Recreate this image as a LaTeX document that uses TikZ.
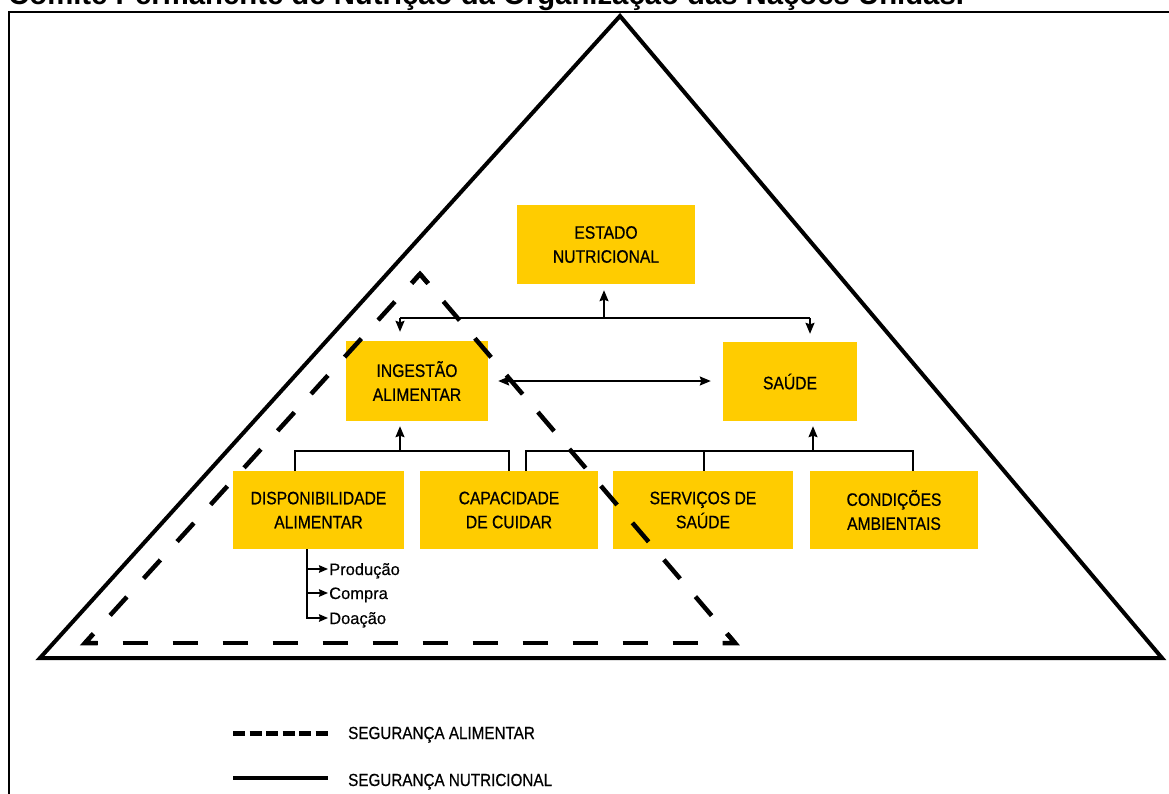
\documentclass[tikz,border=0pt]{standalone}
\usepackage{fontspec}
\setmainfont{Liberation Sans}
\newfontfamily\boxfont[FakeStretch=0.87,FakeBold=0.6]{Liberation Sans}
\newfontfamily\plainfont{Liberation Sans}
\newfontfamily\subfont[FakeBold=0.4]{Liberation Sans}
\usetikzlibrary{arrows.meta,calc}
\definecolor{ambar}{RGB}{255,204,0}
\begin{document}
\begin{tikzpicture}[x=1pt,y=-1pt,
  box/.style={fill=ambar, draw=none, align=center, inner sep=0pt,
    font=\boxfont\fontsize{18}{24}\selectfont},
  conn/.style={line width=1.6pt},
  tip/.tip={Stealth[length=11pt,width=9pt,inset=1.5pt]},
  arr/.style={conn, -tip},
  darr/.style={conn, tip-tip},
  subtxt/.style={font=\subfont\fontsize{16.5}{18}\selectfont, inner sep=1pt, anchor=base west},
  subarr/.style={line width=1.6pt, -{Stealth[length=9pt,width=7.5pt,inset=1pt]}},
  frameline/.style={line width=1.5pt},
  bigtri/.style={line width=4pt, line join=miter},
  dtri/.style={line width=4.5pt, line join=miter},
  legtxt/.style={font=\boxfont\fontsize{17.5}{20}\selectfont, inner sep=0pt, anchor=base west}
]
\useasboundingbox (0,0) rectangle (1169,793);

% title (cut at top, as in the reference)
\node[anchor=base west, inner sep=0pt, font=\plainfont\bfseries\fontsize{29.3}{30}\selectfont] (title) at (8,4)
  {Comitê Permanente de Nutrição da Organização das Nações Unidas.};

% frame
\coordinate (fTL) at (9,12);
\coordinate (fTR) at (1172,12);
\coordinate (fBL) at (9,796);
\draw[frameline] (fBL) -- (fTL) -- (fTR);

% big triangle
\coordinate (TA) at (620,16);
\coordinate (TB) at (40,658);
\coordinate (TC) at (1162,658);
\draw[bigtri] (TA) -- (TB) -- (TC) -- cycle;

% boxes
\node[box, minimum width=178pt, minimum height=79pt] (est) at (606,244.5) {ESTADO\\NUTRICIONAL};
\node[box, minimum width=142pt, minimum height=80pt] (ing) at (417,381) {INGESTÃO\\ALIMENTAR};
\node[box, minimum width=134pt, minimum height=79pt] (sau) at (790,381.5) {SAÚDE};
\node[box, minimum width=171pt, minimum height=78pt] (disp) at (318.5,510) {DISPONIBILIDADE\\ALIMENTAR};
\node[box, minimum width=178pt, minimum height=78pt] (cap) at (509,510) {CAPACIDADE\\DE CUIDAR};
\node[box, minimum width=180pt, minimum height=78pt] (serv) at (703,510) {SERVIÇOS DE\\SAÚDE};
\node[box, minimum width=168pt, minimum height=78pt] (cond) at (894,510) {CONDIÇÕES\\AMBIENTAIS};

% upper connectors
\coordinate (j1) at (604,318);
\coordinate (tl) at (400,318);
\coordinate (tr) at (810,318);
\draw[conn] (tl) -- (tr);
\draw[arr, shorten >=6pt] (j1) -- (j1 |- est.south);
\draw[arr, shorten >=9pt] (tl) -- (tl |- ing.north);
\draw[arr, shorten >=8pt] (tr) -- (tr |- sau.north);

% double arrow
\draw[darr, shorten <=10pt, shorten >=12pt] (ing.east) -- (sau.west |- ing.east);

% lower-left bracket
\coordinate (b1) at (295,451);
\coordinate (b2) at (509,451);
\coordinate (bu) at (400,451);
\draw[conn] (b1 |- disp.north) -- (b1) -- (b2) -- (b2 |- cap.north);
\draw[arr, shorten >=5pt] (bu) -- (bu |- ing.south);

% lower-right bracket
\coordinate (c1) at (526,451);
\coordinate (c2) at (704,451);
\coordinate (c3) at (913,451);
\coordinate (cu) at (813,451);
\draw[conn] (c1 |- cap.north) -- (c1) -- (c3) -- (c3 |- cond.north);
\draw[conn] (c2) -- (c2 |- serv.north);
\draw[arr, shorten >=5pt] (cu) -- (cu |- sau.south);

% sub list
\node[subtxt] (prod) at (328,575) {Produção};
\node[subtxt] (comp) at (328,599) {Compra};
\node[subtxt] (doa) at (328,624) {Doação};
\coordinate (sv) at (307,549);
\coordinate (pa) at ([yshift=6pt]prod.base west);
\coordinate (ca) at ([yshift=6pt]comp.base west);
\coordinate (da) at ([yshift=6pt]doa.base west);
\draw[line width=1.6pt] (sv) -- (sv |- da);
\draw[subarr] (sv |- pa) -- (pa);
\draw[subarr] (sv |- ca) -- (ca);
\draw[subarr] ([xshift=-0.8pt]sv |- da) -- (da);

% dashed triangle (drawn over boxes)
\coordinate (DA) at (420,274);
\coordinate (DB) at (85,643);
\coordinate (DC) at (735,643);
\draw[dtri, dash pattern=on 25pt off 24.84pt, dash phase=12.5pt] (DA) -- (DB);
\draw[dtri, dash pattern=on 25pt off 23.52pt, dash phase=12.5pt] (DA) -- (DC);
\draw[dtri, dash pattern=on 25pt off 25pt, dash phase=12.5pt] (DB) -- (DC);
\draw[dtri] ($(DA)!12.5pt!(DB)$) -- (DA) -- ($(DA)!12.5pt!(DC)$);
\draw[dtri] ($(DB)!12.5pt!(DA)$) -- (DB) -- ($(DB)!12.5pt!(DC)$);
\draw[dtri] ($(DC)!12.5pt!(DA)$) -- (DC) -- ($(DC)!12.5pt!(DB)$);

% legend
\coordinate (l1a) at (233,733);
\coordinate (l1b) at (328,733);
\coordinate (l2a) at (233,778);
\coordinate (l2b) at (328,778);
\draw[line width=5pt, dash pattern=on 12.4pt off 4.1pt] (l1a) -- (l1b);
\draw[line width=4pt] (l2a) -- (l2b);
\node[legtxt] (lg1) at (348,739) {SEGURANÇA ALIMENTAR};
\node[legtxt] (lg2) at (348,786) {SEGURANÇA NUTRICIONAL};
\end{tikzpicture}
\end{document}
